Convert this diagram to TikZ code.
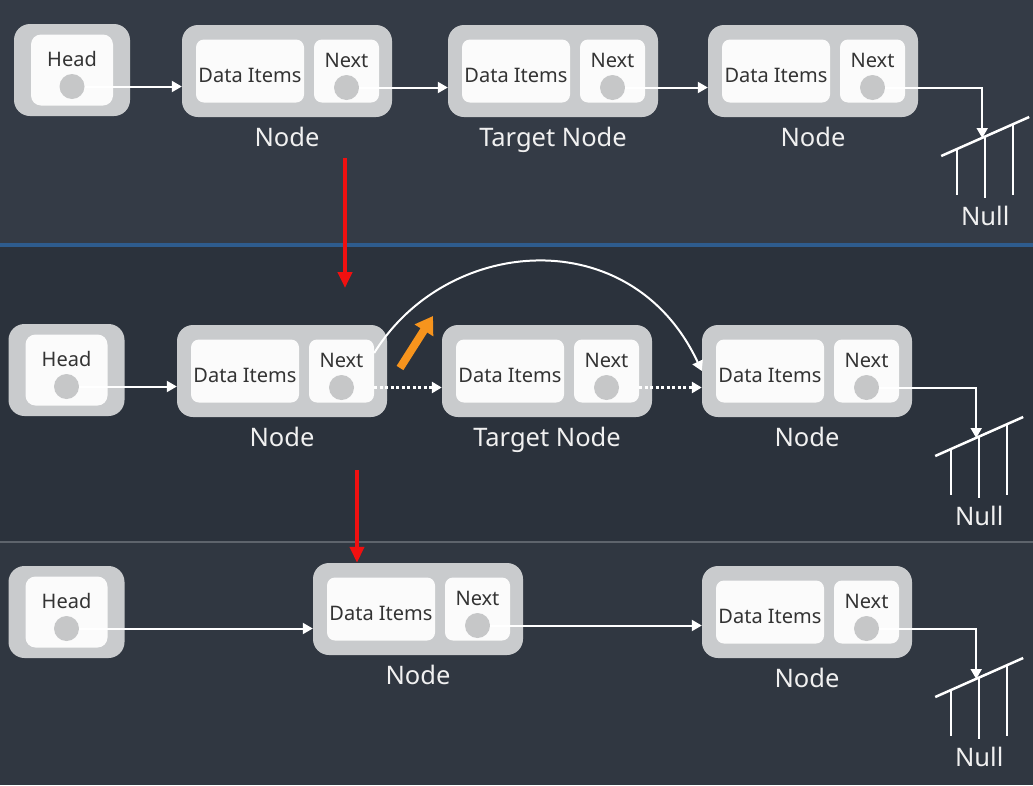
\documentclass[tikz,border=0pt]{standalone}
\usepackage{fontspec}
\setmainfont{Noto Sans}
\usepackage{tikz}
\usetikzlibrary{positioning}
\usetikzlibrary{arrows.meta}
\usepackage{xcolor}

\definecolor{panelA}{HTML}{343B46}
\definecolor{bluebar}{HTML}{2E5C8E}
\definecolor{panelB}{HTML}{2B323C}
\definecolor{seam}{HTML}{5E646C}
\definecolor{panelC}{HTML}{303741}
\definecolor{boxgray}{HTML}{C9CBCD}
\definecolor{boxwhite}{HTML}{FBFBFB}
\definecolor{dotgray}{HTML}{C6C7C8}
\definecolor{textdark}{HTML}{333333}
\definecolor{textlight}{HTML}{F0F0F0}
\definecolor{cutred}{HTML}{F01010}
\definecolor{swingorange}{HTML}{F7941D}

\begin{document}
\begin{tikzpicture}[x=1pt,y=-1pt,
outerbox/.style={fill=boxgray, rounded corners=16pt, minimum width=210pt, minimum height=92pt, inner sep=0pt},
headbox/.style={outerbox, minimum width=116pt},
innerbox/.style={fill=boxwhite, rounded corners=8pt, minimum width=108pt, minimum height=63pt, inner sep=0pt},
nextbox/.style={innerbox, minimum width=65pt},
headin/.style={innerbox, minimum width=82pt, minimum height=71pt, rounded corners=10pt},
ptr/.style={circle, fill=dotgray, minimum size=25pt, inner sep=0pt},
itemtext/.style={text=textdark, font=\fontsize{20pt}{24pt}\selectfont, inner sep=0pt},
caption/.style={text=textlight, font=\fontsize{25.5pt}{30pt}\selectfont, inner sep=0pt, anchor=base},
link/.style={draw=white, line width=2pt, -{Triangle[width=11pt,length=10pt]}},
dottedlink/.style={link, line width=3pt, dash pattern=on 3pt off 2.5pt},
wire/.style={draw=white, line width=2.5pt},
cutarrow/.style={draw=cutred, line width=4pt, -{Triangle[width=14pt,length=16pt]}},
swingarrow/.style={draw=swingorange, line width=8pt, -{Triangle[width=21pt,length=17pt]}}]

\useasboundingbox (0,0) rectangle (1033,785);

% three screens
\fill[panelA] (0,0) rectangle (1033,243);
\fill[bluebar] (0,243) rectangle (1033,247);
\fill[panelB] (0,247) rectangle (1033,541);
\fill[seam] (0,541) rectangle (1033,543);
\fill[panelC] (0,543) rectangle (1033,785);


\foreach \n/\x/\y in {head1/72/70, head2/66.5/370, head3/66.5/612}
{
\node[headbox] (\n) at (\x,\y) {};
\node[headin] (\n-in) at (\n.center) {};
\node[itemtext] at ([yshift=11.5pt]\n-in.center) {Head};
\node[ptr] (\n-dot) at ([yshift=-16.5pt]\n-in.center) {};
}


\foreach \n/\x/\y/\lab in {first1/287/71/Node, target1/553/71/Target Node, last1/813/71/Node,
first2/282/371/Node, target2/547/371/Target Node, last2/807/371/Node,
first3/418/609/Node, last3/807/612/Node}
{
\node[outerbox] (\n) at (\x,\y) {};
\node[innerbox, anchor=west] (\n-data) at ([xshift=14pt]\n.west) {};
\node[itemtext] at ([yshift=-4.5pt]\n-data.center) {Data Items};
\node[nextbox, anchor=east] (\n-next) at ([xshift=-13pt]\n.east) {};
\node[itemtext] at ([yshift=10.5pt]\n-next.center) {Next};
\node[ptr] (\n-dot) at ([yshift=-16.5pt]\n-next.center) {};
\node[caption] (\n-cap) at ([yshift=-75pt]\n.center) {\lab};
}


% Null at the end of each list
\foreach \n in {last1,last2,last3}
{
\coordinate (\n-null) at ([xshift=64pt,yshift=-67pt]\n.east);
\draw[wire] ([shift={(-41,18)}]\n-null) -- ([shift={(47,-21)}]\n-null);
\foreach \dx/\top/\bot in {-25/11/57, 3/-1.5/60, 31/-14/57}
\draw[wire] ([shift={(\dx,\top)}]\n-null) -- ([shift={(\dx,\bot)}]\n-null);
\node[caption] at ([shift={(3,87)}]\n-null) {Null};
\draw[link] (\n-dot.east) -| (\n-null);
}


\draw[link] (head1-dot.east) -- (head1-dot -| first1.west);
\draw[link] (first1-dot.east) -- (first1-dot -| target1.west);
\draw[link] (target1-dot.east) -- (target1-dot -| last1.west);

\draw[link] (head2-dot.east) -- (head2-dot -| first2.west);
\draw[dottedlink] (first2-dot -| first2-next.east) -- (first2-dot -| target2.west);
\draw[dottedlink] (target2-dot -| target2-next.east) -- (target2-dot -| last2.west);
\draw[link] ([yshift=18pt]first2-next.east) .. controls +(73,-118) and +(-70,-150) .. (last2.west);

\coordinate (swing) at (400,368);
\draw[swingarrow] (swing) -- ++(33,-52);

\draw[link] (head3-dot.east) -- (head3-dot -| first3.west);
\draw[link] (first3-dot.east) -- (first3-dot -| last3.west);


\coordinate (cut1) at (345,158);
\draw[cutarrow] (cut1) -- ++(0,130);

\coordinate (cut2) at (357,470);
\draw[cutarrow] (cut2) -- (cut2 |- first3.north);

\end{tikzpicture}
\end{document}
